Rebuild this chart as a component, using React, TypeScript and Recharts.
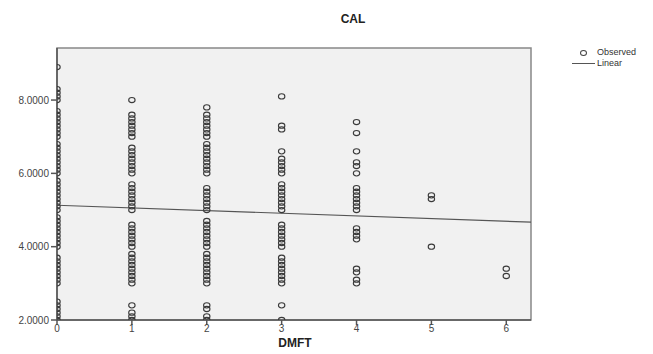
import { ReferenceArea, ReferenceLine, Scatter, ScatterChart, XAxis, YAxis } from 'recharts'

// CAL readings grouped by DMFT score
const CAL_DMFT_0 = [
  2.0, 2.1, 2.2, 2.3, 2.4, 2.5, 3.0, 3.1, 3.2, 3.3, 3.4, 3.5, 3.6, 3.7, 4.0, 4.1, 4.2, 4.3, 4.4, 4.5, 4.6, 4.7,
  4.8, 5.0, 5.1, 5.2, 5.3, 5.4, 5.5, 5.6, 5.7, 5.8, 6.0, 6.1, 6.2, 6.3, 6.4, 6.5, 6.6, 6.7, 6.8, 7.0, 7.1, 7.2,
  7.3, 7.4, 7.5, 7.6, 7.7, 8.0, 8.1, 8.2, 8.3, 8.9,
]
const CAL_DMFT_1 = [
  2.0, 2.1, 2.2, 2.4, 3.0, 3.1, 3.2, 3.3, 3.4, 3.5, 3.6, 3.7, 3.8, 4.0, 4.1, 4.2, 4.3, 4.4, 4.5, 4.6, 5.0, 5.1,
  5.2, 5.3, 5.4, 5.5, 5.6, 5.7, 6.0, 6.1, 6.2, 6.3, 6.4, 6.5, 6.6, 6.7, 7.0, 7.1, 7.2, 7.3, 7.4, 7.5, 7.6, 8.0,
]
const CAL_DMFT_2 = [
  2.0, 2.1, 2.3, 2.4, 3.0, 3.1, 3.2, 3.3, 3.4, 3.5, 3.6, 3.7, 3.8, 4.0, 4.1, 4.2, 4.3, 4.4, 4.5, 4.6, 4.7, 5.0,
  5.1, 5.2, 5.3, 5.4, 5.5, 5.6, 6.0, 6.1, 6.2, 6.3, 6.4, 6.5, 6.6, 6.7, 6.8, 7.0, 7.1, 7.2, 7.3, 7.4, 7.5, 7.6,
  7.8,
]
const CAL_DMFT_3 = [
  2.0, 2.4, 3.0, 3.1, 3.2, 3.3, 3.4, 3.5, 3.6, 3.7, 4.0, 4.1, 4.2, 4.3, 4.4, 4.5, 4.6, 5.0, 5.1, 5.2, 5.3, 5.4,
  5.5, 5.6, 5.7, 6.0, 6.1, 6.2, 6.3, 6.4, 6.6, 7.2, 7.3, 8.1,
]
const CAL_DMFT_4 = [3.0, 3.1, 3.3, 3.4, 4.2, 4.3, 4.4, 4.5, 5.0, 5.1, 5.2, 5.3, 5.4, 5.5, 5.6, 6.0, 6.2, 6.3, 6.6, 7.1, 7.4]
const CAL_DMFT_5 = [4.0, 5.3, 5.4]
const CAL_DMFT_6 = [3.2, 3.4]

const DMFT_GROUPS = [CAL_DMFT_0, CAL_DMFT_1, CAL_DMFT_2, CAL_DMFT_3, CAL_DMFT_4, CAL_DMFT_5, CAL_DMFT_6]

// fitted linear line, read at the plot edges
const LINEAR_X = [0, 6.33]
const LINEAR_Y = [5.13, 4.67]

const X_TICKS = [0, 1, 2, 3, 4, 5, 6]
const Y_TICKS = [2, 4, 6, 8]
const X_DOMAIN = [0, 6.33]
const Y_DOMAIN = [2, 9.42]

const observed = DMFT_GROUPS.flatMap((vals, dmft) => vals.map((cal) => ({ dmft, cal })))

const FONT = '"Liberation Sans", Arial, sans-serif'

function Ring(props: any) {
  if (props.cx == null || props.cy == null) return <g />
  return <ellipse cx={props.cx} cy={props.cy} rx={3.2} ry={2.6} fill="none" stroke="#3a3a3a" strokeWidth={1.1} />
}

export default function App() {
  return (
    <div style={{ position: 'absolute', left: 0, top: 0, width: 653, height: 354, background: '#fff', fontFamily: FONT }}>
      <div style={{ position: 'absolute', left: 303, width: 100, top: 12, textAlign: 'center', fontSize: 12, fontWeight: 'bold', color: '#222' }}>
        CAL
      </div>
      <ScatterChart width={653} height={354} margin={{ top: 48, right: 122, bottom: 4, left: 0 }}>
        <ReferenceArea
          x1={X_DOMAIN[0]}
          x2={X_DOMAIN[1]}
          y1={Y_DOMAIN[0]}
          y2={Y_DOMAIN[1]}
          fill="#f1f1f1"
          fillOpacity={1}
          stroke="#888"
          strokeWidth={1.5}
          ifOverflow="extendDomain"
        />
        <XAxis
          type="number"
          dataKey="dmft"
          domain={X_DOMAIN}
          ticks={X_TICKS}
          height={30}
          tickSize={5}
          tickMargin={0}
          allowDataOverflow
          stroke="#555"
          strokeWidth={1.5}
          tick={{ fontSize: 10, fill: '#444', fontFamily: FONT }}
        />
        <YAxis
          type="number"
          dataKey="cal"
          domain={Y_DOMAIN}
          ticks={Y_TICKS}
          width={57}
          tickSize={6}
          allowDataOverflow
          stroke="#555"
          strokeWidth={1.5}
          tickFormatter={(v: number) => v.toFixed(4)}
          tick={{ fontSize: 10, fill: '#444', fontFamily: FONT }}
        />
        <ReferenceLine
          segment={[
            { x: LINEAR_X[0], y: LINEAR_Y[0] },
            { x: LINEAR_X[1], y: LINEAR_Y[1] },
          ]}
          stroke="#555"
          strokeWidth={1.2}
        />
        <Scatter data={observed} shape={Ring} isAnimationActive={false} />
      </ScatterChart>
      <div style={{ position: 'absolute', left: 245, width: 100, top: 336, textAlign: 'center', fontSize: 12, fontWeight: 'bold', color: '#222', lineHeight: '14px' }}>
        DMFT
      </div>
      <div style={{ position: 'absolute', left: 572, top: 47, fontSize: 9, color: '#333', lineHeight: '11px' }}>
        <div style={{ display: 'flex', alignItems: 'center' }}>
          <span
            style={{ display: 'inline-block', width: 5, height: 4, border: '1px solid #444', borderRadius: '50%', marginLeft: 8, marginRight: 10 }}
          />
          Observed
        </div>
        <div style={{ display: 'flex', alignItems: 'center' }}>
          <span style={{ display: 'inline-block', width: 23, height: 0, borderTop: '1px solid #555', marginRight: 2 }} />
          Linear
        </div>
      </div>
    </div>
  )
}
